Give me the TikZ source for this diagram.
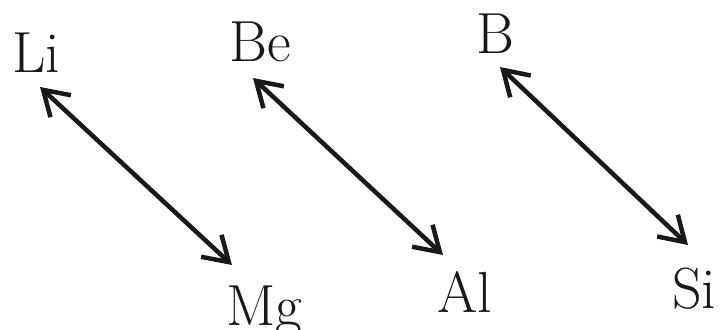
\documentclass[tikz,border=0pt]{standalone}
\usetikzlibrary{arrows.meta}
\begin{document}
\begin{tikzpicture}[x=1pt,y=-1pt,
  elem/.style={anchor=base west,inner sep=0pt,font=\fontsize{58}{60}\selectfont,text=black!90},
  link/.style={line width=4.5pt,draw=black!90,{Straight Barb[length=24pt,width=30pt]}-{Straight Barb[length=24pt,width=30pt]}}]
\useasboundingbox (0,0) rectangle (722,329);
\node[elem] (Li) at (12,73) {Li};
\node[elem] (Be) at (229,62) {Be};
\node[elem] (B) at (476,53) {B};
\node[elem] (Mg) at (226,325) {Mg};
\node[elem] (Al) at (437,312) {Al};
\node[elem] (Si) at (672,308) {Si};
\coordinate (liend) at (40,87);
\coordinate (mgend) at (232,265);
\coordinate (beend) at (253,78);
\coordinate (alend) at (443,255);
\coordinate (bend) at (500,67);
\coordinate (siend) at (688,245);
\draw[link] (liend) -- (mgend);
\draw[link] (beend) -- (alend);
\draw[link] (bend) -- (siend);
\end{tikzpicture}
\end{document}
